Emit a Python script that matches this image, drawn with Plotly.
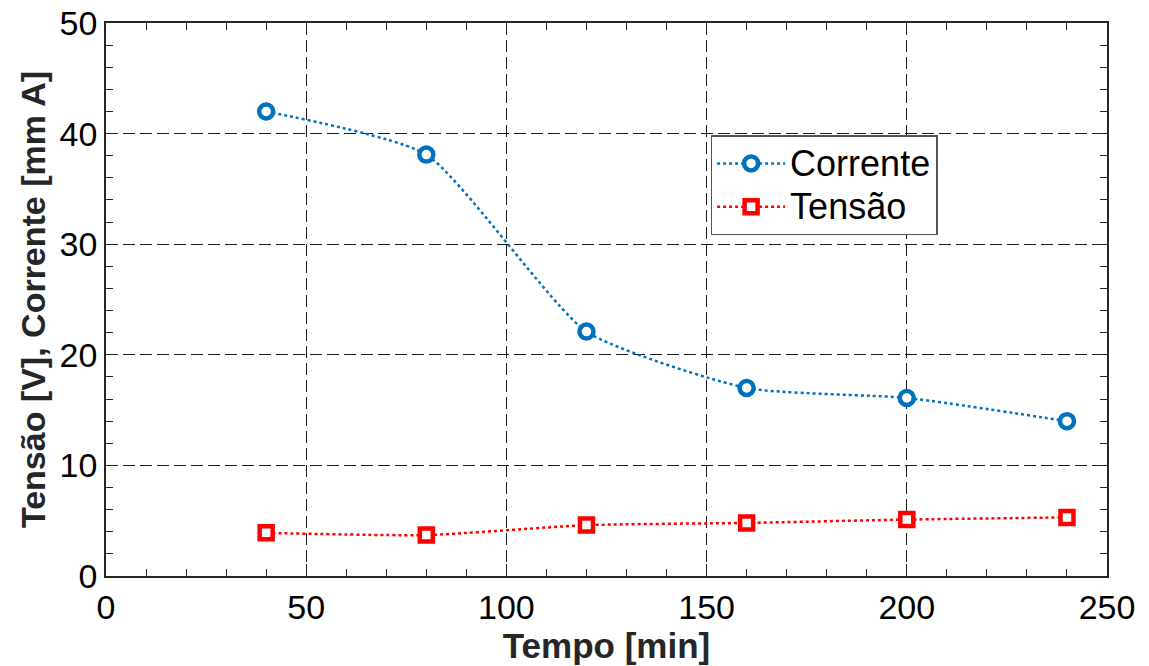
import plotly.graph_objects as go

# Measurements over time
tempo = [40, 80, 120, 160, 200, 240]
corrente = [42.0, 38.1, 22.1, 17.0, 16.1, 14.0]
tensao = [3.9, 3.7, 4.6, 4.8, 5.1, 5.3]

axis_color = "#262626"
font_family = "Liberation Sans, Arial, sans-serif"


def legend_label(text):
    # larger glyphs than the legend's row height
    return f'<span style="font-size:36px">{text}</span>'


fig = go.Figure()

fig.add_trace(go.Scatter(
    x=tempo, y=corrente, name=legend_label("Corrente"),
    mode="lines+markers",
    line=dict(color="#0072BD", width=2.5, dash="dot", shape="spline", smoothing=0.55),
    marker=dict(symbol="circle", size=14, color="white", line=dict(width=4.5, color="#0072BD")),
))
fig.add_trace(go.Scatter(
    x=tempo, y=tensao, name=legend_label("Tensão"),
    mode="lines+markers",
    line=dict(color="#FF0000", width=2.5, dash="dot", shape="spline", smoothing=0.55),
    marker=dict(symbol="square", size=13, color="white", line=dict(width=4.5, color="#FF0000")),
))

common_axis = dict(
    showline=True, linecolor=axis_color, linewidth=1.5, mirror="ticks",
    ticks="inside", ticklen=12, tickwidth=1.3, tickcolor=axis_color,
    showgrid=True, gridcolor="#1a1a1a", gridwidth=1.3, griddash="12px,5px",
    zeroline=False, automargin=False,
    tickfont=dict(family=font_family, size=34, color="black"),
)

fig.update_xaxes(
    range=[0, 250], tick0=0, dtick=50,
    minor=dict(dtick=10, ticks="inside", ticklen=7, tickwidth=1.3, tickcolor=axis_color, showgrid=False),
    title=dict(text="<b>Tempo [min]</b>", font=dict(family=font_family, size=35, color=axis_color), standoff=0),
    **common_axis,
)
fig.update_yaxes(
    range=[0, 50], tick0=0, dtick=10,
    minor=dict(dtick=2, ticks="inside", ticklen=7, tickwidth=1.3, tickcolor=axis_color, showgrid=False),
    title=dict(text="<b>Tensão [V], Corrente [mm A]</b>", font=dict(family=font_family, size=34, color=axis_color), standoff=4),
    **common_axis,
)

fig.update_layout(
    width=1149, height=666,
    margin=dict(l=106, r=42, t=23, b=90),
    plot_bgcolor="white", paper_bgcolor="white",
    showlegend=True,
    legend=dict(
        x=0.604, y=0.797, xanchor="left", yanchor="top",
        bgcolor="white", bordercolor="#555555", borderwidth=1.5,
        font=dict(family=font_family, size=31, color="black"),
        itemwidth=68, tracegroupgap=0,
    ),
)

fig.write_html("out.html")
